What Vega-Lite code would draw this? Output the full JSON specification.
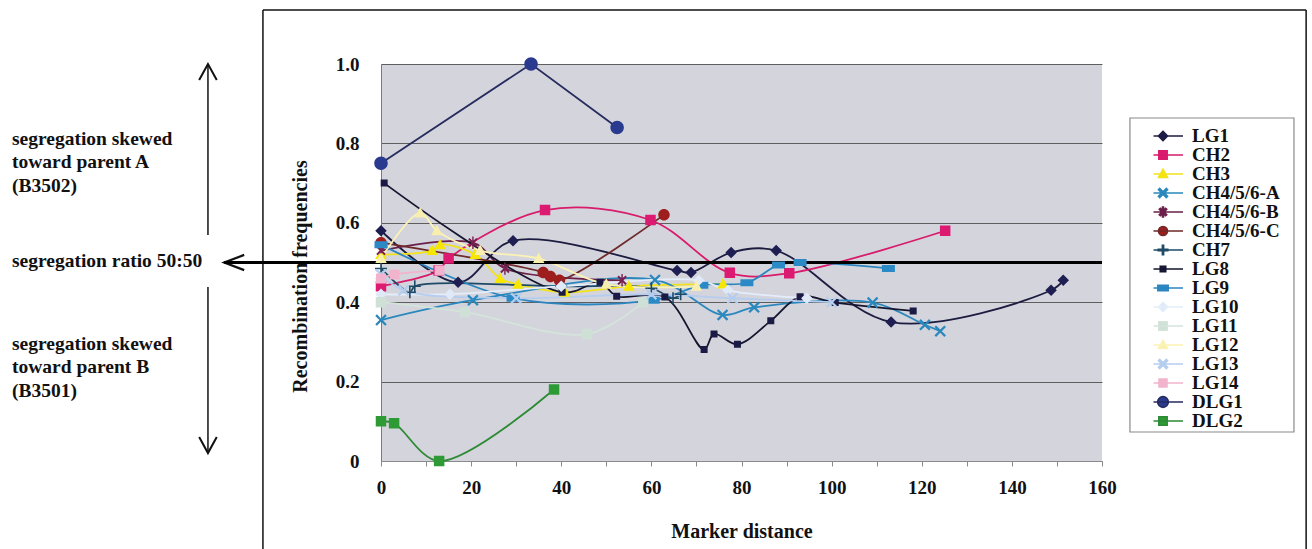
{
"$schema": "https://vega.github.io/schema/vega-lite/v6.json",
"width": 721, "height": 397,
"autosize": {"type": "none"},
"padding": {"left": 381, "top": 64, "right": 210, "bottom": 88},
"background": "white",
"datasets": {
"pts": [
{"s":"LG1","d":0,"r":0.58},{"s":"LG1","d":17.1,"r":0.45},{"s":"LG1","d":29.3,"r":0.555},{"s":"LG1","d":65.7,"r":0.48},{"s":"LG1","d":68.8,"r":0.475},{"s":"LG1","d":77.7,"r":0.525},{"s":"LG1","d":87.7,"r":0.53},{"s":"LG1","d":113.2,"r":0.35},{"s":"LG1","d":148.7,"r":0.43},{"s":"LG1","d":151.4,"r":0.455},
{"s":"CH2","d":0,"r":0.44},{"s":"CH2","d":12.8,"r":0.48},{"s":"CH2","d":15,"r":0.51},{"s":"CH2","d":36.4,"r":0.632},{"s":"CH2","d":59.8,"r":0.607},{"s":"CH2","d":77.4,"r":0.474},{"s":"CH2","d":90.6,"r":0.473},{"s":"CH2","d":125.2,"r":0.58},
{"s":"CH3","d":0,"r":0.52},{"s":"CH3","d":11.3,"r":0.53},{"s":"CH3","d":13.1,"r":0.545},{"s":"CH3","d":20.9,"r":0.52},{"s":"CH3","d":26.4,"r":0.46},{"s":"CH3","d":30.4,"r":0.445},{"s":"CH3","d":40.8,"r":0.425},{"s":"CH3","d":55,"r":0.44},{"s":"CH3","d":75.9,"r":0.446},
{"s":"CH4/5/6-A","d":0,"r":0.355},{"s":"CH4/5/6-A","d":20.4,"r":0.405},{"s":"CH4/5/6-A","d":60.8,"r":0.456},{"s":"CH4/5/6-A","d":75.8,"r":0.368},{"s":"CH4/5/6-A","d":82.8,"r":0.387},{"s":"CH4/5/6-A","d":109.1,"r":0.399},{"s":"CH4/5/6-A","d":120.7,"r":0.343},{"s":"CH4/5/6-A","d":124.1,"r":0.327},
{"s":"CH4/5/6-B","d":0,"r":0.53},{"s":"CH4/5/6-B","d":20.4,"r":0.55},{"s":"CH4/5/6-B","d":27.5,"r":0.485},{"s":"CH4/5/6-B","d":53.5,"r":0.455},
{"s":"CH4/5/6-C","d":0,"r":0.55},{"s":"CH4/5/6-C","d":36,"r":0.475},{"s":"CH4/5/6-C","d":37.6,"r":0.465},{"s":"CH4/5/6-C","d":39.6,"r":0.455},{"s":"CH4/5/6-C","d":62.8,"r":0.62},
{"s":"CH7","d":0,"r":0.485},{"s":"CH7","d":6.4,"r":0.425},{"s":"CH7","d":7.5,"r":0.44},{"s":"CH7","d":40,"r":0.44},{"s":"CH7","d":60,"r":0.435},{"s":"CH7","d":64.8,"r":0.41},{"s":"CH7","d":66.5,"r":0.42},
{"s":"LG8","d":0.7,"r":0.70},{"s":"LG8","d":40.2,"r":0.425},{"s":"LG8","d":48.6,"r":0.45},{"s":"LG8","d":52.3,"r":0.415},{"s":"LG8","d":63,"r":0.413},{"s":"LG8","d":71.7,"r":0.281},{"s":"LG8","d":73.9,"r":0.32},{"s":"LG8","d":79.1,"r":0.294},{"s":"LG8","d":86.5,"r":0.353},{"s":"LG8","d":93,"r":0.414},{"s":"LG8","d":100.8,"r":0.399},{"s":"LG8","d":118.1,"r":0.378},
{"s":"LG9","d":0,"r":0.545},{"s":"LG9","d":29.3,"r":0.41},{"s":"LG9","d":60.4,"r":0.405},{"s":"LG9","d":71.2,"r":0.443},{"s":"LG9","d":81.2,"r":0.449},{"s":"LG9","d":88.2,"r":0.494},{"s":"LG9","d":93,"r":0.5},{"s":"LG9","d":112.6,"r":0.485},
{"s":"LG10","d":0,"r":0.42},{"s":"LG10","d":15.3,"r":0.42},{"s":"LG10","d":40,"r":0.44},{"s":"LG10","d":70.5,"r":0.455},{"s":"LG10","d":77,"r":0.43},{"s":"LG10","d":94.5,"r":0.41},
{"s":"LG11","d":0,"r":0.40},{"s":"LG11","d":18.6,"r":0.375},{"s":"LG11","d":45.7,"r":0.32},{"s":"LG11","d":58.2,"r":0.40},
{"s":"LG12","d":0,"r":0.51},{"s":"LG12","d":8.7,"r":0.625},{"s":"LG12","d":12.4,"r":0.58},{"s":"LG12","d":22,"r":0.53},{"s":"LG12","d":35,"r":0.51},{"s":"LG12","d":50,"r":0.445},{"s":"LG12","d":70,"r":0.44},
{"s":"LG13","d":0,"r":0.47},{"s":"LG13","d":5,"r":0.43},{"s":"LG13","d":30,"r":0.41},{"s":"LG13","d":60,"r":0.42},{"s":"LG13","d":78,"r":0.41},{"s":"LG13","d":100,"r":0.40},
{"s":"LG14","d":0,"r":0.46},{"s":"LG14","d":3,"r":0.47},{"s":"LG14","d":13,"r":0.48},
{"s":"DLG1","d":0,"r":0.75},{"s":"DLG1","d":33.3,"r":1.0},{"s":"DLG1","d":52.4,"r":0.84},
{"s":"DLG2","d":0,"r":0.10},{"s":"DLG2","d":2.9,"r":0.095},{"s":"DLG2","d":12.9,"r":0.0},{"s":"DLG2","d":38.4,"r":0.18}
],
"notes": [
{"t":"segregation skewed","d":-81.9,"r":0.796},
{"t":"toward parent A","d":-81.9,"r":0.737},
{"t":"(B3502)","d":-81.9,"r":0.678},
{"t":"segregation ratio 50:50","d":-81.9,"r":0.489},
{"t":"segregation skewed","d":-81.9,"r":0.280},
{"t":"toward parent B","d":-81.9,"r":0.221},
{"t":"(B3501)","d":-81.9,"r":0.162}
],
"frame": [
{"d1":-26.2,"d2":205.3,"r1":1.136,"r2":1.136},
{"d1":-26.2,"d2":-26.2,"r1":1.136,"r2":-0.3},
{"d1":205.3,"d2":205.3,"r1":1.136,"r2":-0.3}
],
"lbox": [{"d1":166.2,"d2":202.6,"r1":0.864,"r2":0.073}],
"vrules": [{"d":-38.4,"r1":0.569,"r2":1.0},{"d":-38.4,"r1":0.438,"r2":0.02}],
"hrule": [{"d1":-34.8,"d2":160,"r":0.5}],
"heads": [{"k":"up","d":-38.4,"r":1.0},{"k":"down","d":-38.4,"r":0.02},{"k":"left","d":-34.8,"r":0.5}]
},
"layer": [
{"data":{"name":"pts"},
 "transform":[{"filter":"false"}],
 "mark":{"type":"point","filled":true,"strokeWidth":1.5,"opacity":1},
 "encoding":{
  "stroke":{"field":"s","type":"nominal","legend":{"title":null,"orient":"none","legendX":772.5,"legendY":63},
   "scale":{"domain":["LG1","CH2","CH3","CH4/5/6-A","CH4/5/6-B","CH4/5/6-C","CH7","LG8","LG9","LG10","LG11","LG12","LG13","LG14","DLG1","DLG2"],
    "range":["#1c1c40","#d81b6a","#f2e21a","#2a88bd","#6a2048","#6e2a2a","#1f4a66","#15152e","#2b85bf","#e4eefa","#d4e4da","#fbf3b5","#b5cdef","#f2b3cc","#262b5e","#2d8a34"]}},
  "fill":{"field":"s","type":"nominal","legend":{"title":null,"orient":"none","legendX":772.5,"legendY":63},
   "scale":{"domain":["LG1","CH2","CH3","CH4/5/6-A","CH4/5/6-B","CH4/5/6-C","CH7","LG8","LG9","LG10","LG11","LG12","LG13","LG14","DLG1","DLG2"],
    "range":["#1e1e52","#dc1a72","#f6e600","#2a88bd","#7a2050","#9e1e1e","#1f4a66","#1a1a44","#2b8ac5","#dfe9f7","#cfe0d6","#f8efae","#b5cdef","#f2b3cc","#2a3a8e","#2e9a36"]}},
  "shape":{"field":"s","type":"nominal","legend":{"title":null,"orient":"none","legendX":772.5,"legendY":63},
   "scale":{"domain":["LG1","CH2","CH3","CH4/5/6-A","CH4/5/6-B","CH4/5/6-C","CH7","LG8","LG9","LG10","LG11","LG12","LG13","LG14","DLG1","DLG2"],
    "range":[
"M-5,0H5M0,-1.15L1.15,0L0,1.15L-1.15,0Z",
"M-5,0H5M-1.05,-1.05H1.05V1.05H-1.05Z",
"M-5,0H5M0,-1.2L1.15,0.9H-1.15Z",
"M-5,0H5M0,-0.32L0.83,-1.15L1.15,-0.83L0.32,0L1.15,0.83L0.83,1.15L0,0.32L-0.83,1.15L-1.15,0.83L-0.32,0L-1.15,-0.83L-0.83,-1.15Z",
"M-5,0H5M0,-0.28L0.67,-0.95L0.95,-0.67L0.28,0L0.95,0.67L0.67,0.95L0,0.28L-0.67,0.95L-0.95,0.67L-0.28,0L-0.95,-0.67L-0.67,-0.95ZM-0.14,-1.25H0.14V1.25H-0.14Z",
"M-5,0H5M-1.15,0A1.15,1.15,0,1,0,1.15,0A1.15,1.15,0,1,0,-1.15,0Z",
"M-5,0H5M-0.16,-1.2H0.16V-0.16H1.2V0.16H0.16V1.2H-0.16V0.16H-1.2V-0.16H-0.16Z",
"M-5,0H5M-0.7,-0.7H0.7V0.7H-0.7Z",
"M-5,0H5M-1.3,-0.7H1.3V0.7H-1.3Z",
"M-5,0H5M0,-1.15L1.15,0L0,1.15L-1.15,0Z",
"M-5,0H5M-1.05,-1.05H1.05V1.05H-1.05Z",
"M-5,0H5M0,-1.2L1.15,0.9H-1.15Z",
"M-5,0H5M0,-0.32L0.83,-1.15L1.15,-0.83L0.32,0L1.15,0.83L0.83,1.15L0,0.32L-0.83,1.15L-1.15,0.83L-0.32,0L-1.15,-0.83L-0.83,-1.15Z",
"M-5,0H5M-1,-1H1V1H-1Z",
"M-5,0H5M-1.35,0A1.35,1.35,0,1,0,1.35,0A1.35,1.35,0,1,0,-1.35,0Z",
"M-5,0H5M-1.05,-1.05H1.05V1.05H-1.05Z"]}}}},
{"data":{"name":"pts"},
 "transform":[{"filter":"datum.s != 'DLG1'"}],
 "mark":{"type":"line","interpolate":"catmull-rom","strokeWidth":1.8},
 "encoding":{
  "x":{"field":"d","type":"quantitative","scale":{"domain":[0,160],"nice":false,"zero":false},
   "axis":{"title":"Marker distance","values":[0,10,20,30,40,50,60,70,80,90,100,110,120,130,140,150,160],"labelExpr":"datum.value % 20 == 0 ? datum.label : ''","labelFlush":false,"labelOverlap":false,"grid":false,"domainColor":"#8a8a8a","tickColor":"#8a8a8a","tickSize":5,"labelPadding":12,"titleX":360.5,"titleY":70,"titleBaseline":"middle","titleAlign":"center"}},
  "y":{"field":"r","type":"quantitative","scale":{"domain":[0,1],"nice":false,"zero":false},
   "axis":{"title":"Recombination frequencies","values":[0,0.2,0.4,0.6,0.8,1],"labelExpr":"datum.value == 0 ? '0' : format(datum.value, '.1f')","labelOverlap":false,"grid":true,"gridColor":"#5e5e5e","gridWidth":1,"ticks":false,"domainColor":"#7a7a7a","labelPadding":22,"titleX":-81,"titleY":212,"titleAngle":-90,"titleBaseline":"middle","titleAlign":"center"}},
  "stroke":{"field":"s","type":"nominal","legend":null}}},
{"data":{"name":"pts"},
 "transform":[{"filter":"datum.s == 'DLG1'"}],
 "mark":{"type":"line","interpolate":"linear","strokeWidth":1.8},
 "encoding":{
  "x":{"field":"d","type":"quantitative","scale":{"domain":[0,160],"nice":false,"zero":false}},
  "y":{"field":"r","type":"quantitative","scale":{"domain":[0,1],"nice":false,"zero":false}},
  "stroke":{"field":"s","type":"nominal","legend":null}}},
{"data":{"name":"frame"},
 "mark":{"type":"rule","color":"#111","strokeWidth":1.5},
 "encoding":{
  "x":{"field":"d1","type":"quantitative","scale":{"domain":[0,160],"nice":false,"zero":false}},
  "x2":{"field":"d2"},
  "y":{"field":"r1","type":"quantitative","scale":{"domain":[0,1],"nice":false,"zero":false}},
  "y2":{"field":"r2"}}},
{"data":{"name":"lbox"},
 "mark":{"type":"rect","fill":"#ffffff","stroke":"#8a8a8a","strokeWidth":1.2},
 "encoding":{
  "x":{"field":"d1","type":"quantitative","scale":{"domain":[0,160],"nice":false,"zero":false}},
  "x2":{"field":"d2"},
  "y":{"field":"r1","type":"quantitative","scale":{"domain":[0,1],"nice":false,"zero":false}},
  "y2":{"field":"r2"}}},
{"data":{"name":"notes"},
 "mark":{"type":"text","align":"left","baseline":"alphabetic","font":"Liberation Serif","fontWeight":"bold","fontSize":19.5,"color":"#111"},
 "encoding":{
  "x":{"field":"d","type":"quantitative","scale":{"domain":[0,160],"nice":false,"zero":false}},
  "y":{"field":"r","type":"quantitative","scale":{"domain":[0,1],"nice":false,"zero":false}},
  "text":{"field":"t"}}},
{"data":{"name":"vrules"},
 "mark":{"type":"rule","color":"#111","strokeWidth":1.5},
 "encoding":{
  "x":{"field":"d","type":"quantitative","scale":{"domain":[0,160],"nice":false,"zero":false}},
  "y":{"field":"r1","type":"quantitative","scale":{"domain":[0,1],"nice":false,"zero":false}},
  "y2":{"field":"r2"}}},
{"data":{"name":"heads"},
 "transform":[{"filter":"datum.k == 'up'"}],
 "mark":{"type":"point","shape":"M-2.2,4L0,0L2.2,4","size":64,"filled":false,"color":"#111","strokeWidth":2,"opacity":1},
 "encoding":{
  "x":{"field":"d","type":"quantitative","scale":{"domain":[0,160],"nice":false,"zero":false}},
  "y":{"field":"r","type":"quantitative","scale":{"domain":[0,1],"nice":false,"zero":false}}}},
{"data":{"name":"heads"},
 "transform":[{"filter":"datum.k == 'down'"}],
 "mark":{"type":"point","shape":"M-2.2,-4L0,0L2.2,-4","size":64,"filled":false,"color":"#111","strokeWidth":2,"opacity":1},
 "encoding":{
  "x":{"field":"d","type":"quantitative","scale":{"domain":[0,160],"nice":false,"zero":false}},
  "y":{"field":"r","type":"quantitative","scale":{"domain":[0,1],"nice":false,"zero":false}}}},
{"data":{"name":"heads"},
 "transform":[{"filter":"datum.k == 'left'"}],
 "mark":{"type":"point","shape":"M5,-1.9L0,0L5,1.9","size":64,"filled":false,"color":"#111","strokeWidth":2.2,"opacity":1},
 "encoding":{
  "x":{"field":"d","type":"quantitative","scale":{"domain":[0,160],"nice":false,"zero":false}},
  "y":{"field":"r","type":"quantitative","scale":{"domain":[0,1],"nice":false,"zero":false}}}},
{"data":{"name":"hrule"},
 "mark":{"type":"rule","color":"#000","strokeWidth":3},
 "encoding":{
  "x":{"field":"d1","type":"quantitative","scale":{"domain":[0,160],"nice":false,"zero":false}},
  "x2":{"field":"d2"},
  "y":{"field":"r","type":"quantitative","scale":{"domain":[0,1],"nice":false,"zero":false}}}},
{"data":{"name":"pts"},
 "mark":{"type":"point","size":100,"filled":true,"strokeWidth":0,"opacity":1},
 "encoding":{
  "x":{"field":"d","type":"quantitative","scale":{"domain":[0,160],"nice":false,"zero":false}},
  "y":{"field":"r","type":"quantitative","scale":{"domain":[0,1],"nice":false,"zero":false}},
  "fill":{"field":"s","type":"nominal","legend":null},
  "shape":{"field":"s","type":"nominal","legend":null}}}
],
"config": {
 "font": "Liberation Serif",
 "view": {"fill": "#d4d4dd", "stroke": null},
 "axis": {"labelFont":"Liberation Serif","labelFontWeight":"bold","labelFontSize":19,"labelColor":"#111","titleFont":"Liberation Serif","titleFontWeight":"bold","titleFontSize":20,"titleColor":"#111"},
 "legend": {"labelFont":"Liberation Serif","labelFontWeight":"bold","labelFontSize":19,"labelColor":"#111","padding":0,"symbolSize":64,"symbolStrokeWidth":1.5,"labelOffset":19.5,"rowPadding":0,"clipHeight":18,"labelLimit":200}
}
}
